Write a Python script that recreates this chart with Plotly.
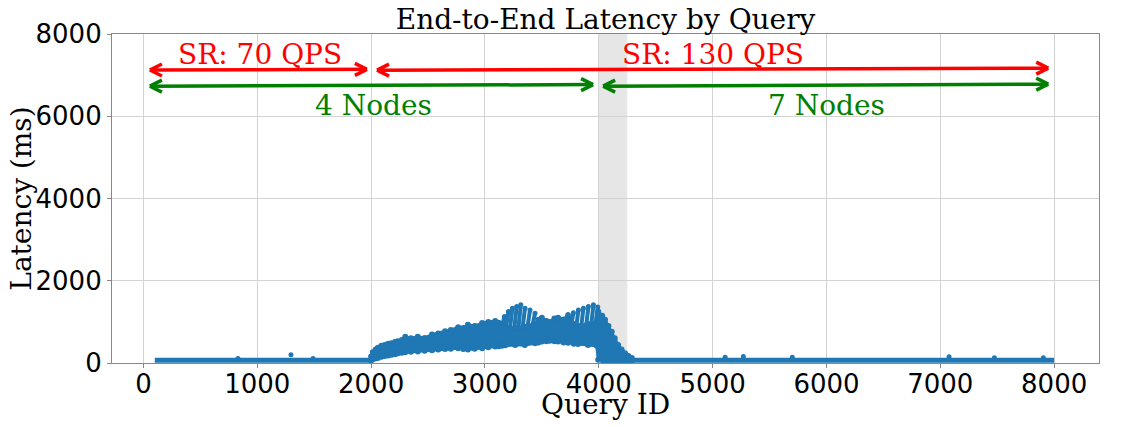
import plotly.graph_objects as go

# ---------------- data ----------------
flat_left_q = [100, 400, 700, 1000, 1300, 1600, 2000]
flat_left_ms = [65, 65, 65, 65, 65, 65, 65]
flat_right_q = [4290, 5000, 5500, 6000, 6500, 7000, 7500, 8000]
flat_right_ms = [65, 65, 65, 65, 65, 65, 65, 65]

spike_q = [830, 1296, 1490, 5110, 5270, 5700, 7077, 7475, 7905]
spike_ms = [110, 200, 110, 140, 160, 140, 150, 130, 130]

band_q = [2000, 2015, 2040, 2060, 2090, 2120, 2150, 2180, 2210, 2235, 2270, 2300,
          2350, 2410, 2470, 2535, 2590, 2650, 2700, 2765, 2810, 2850, 2910, 2975,
          3030, 3090, 3120, 3150, 3180, 3265, 3350, 3440, 3470, 3500, 3540, 3570,
          3610, 3643, 3690, 3730, 3780, 3818, 3905, 3982, 3995, 4030, 4055, 4085,
          4114, 4140, 4170, 4200, 4230, 4260, 4290]
band_low = [60, 90, 110, 120, 150, 170, 185, 200, 215, 240, 250, 260,
            275, 280, 300, 310, 330, 340, 345, 360, 340, 330, 345, 360,
            380, 400, 410, 420, 430, 440, 440, 480, 500, 520, 530, 540,
            530, 520, 500, 490, 470, 460, 440, 420, 80, 70, 60, 60,
            60, 60, 60, 60, 60, 60, 60]
band_high = [160, 260, 330, 370, 420, 440, 470, 480, 510, 530, 560, 640,
             600, 640, 610, 690, 720, 770, 800, 870, 850, 930, 900, 970,
             1000, 1020, 980, 950, 880, 850, 880, 950, 1050, 1100, 1020, 1000,
             1080, 1100, 1060, 1150, 950, 900, 950, 1000, 1250, 1150, 1050, 900,
             760, 600, 440, 330, 240, 170, 120]

stripe_q0 = [3150, 3185, 3220, 3258, 3294, 3331, 3375, 3419,
             3712, 3759, 3803, 3847, 3891, 3935, 3973]
stripe_ms0 = [880, 860, 850, 850, 860, 870, 900, 930,
              1050, 930, 900, 920, 940, 960, 990]
stripe_q1 = [3171, 3206, 3241, 3279, 3315, 3352, 3396, 3440,
             3730, 3777, 3821, 3865, 3909, 3953, 3991]
stripe_ms1 = [1130, 1250, 1330, 1375, 1415, 1330, 1290, 1210,
              1180, 1220, 1290, 1330, 1375, 1415, 1360]

# arrows
arrow_q0 = [57, 2052, 57, 4038]
arrow_ms0 = [7125, 7120, 6732, 6732]
arrow_q1 = [1963, 7948, 3950, 7948]
arrow_ms1 = [7140, 7170, 6770, 6780]
arrow_color = ["red", "red", "green", "green"]

label_text = ["SR: 70 QPS", "SR: 130 QPS", "4 Nodes", "7 Nodes"]
label_q = [1020, 5004, 2017, 6000]
label_ms = [7500, 7500, 6250, 6250]
label_color = ["red", "red", "green", "green"]

span_q = [4000, 4250]

x_ticks = [0, 1000, 2000, 3000, 4000, 5000, 6000, 7000, 8000]
y_ticks = [0, 2000, 4000, 6000, 8000]

BLUE = "#1f77b4"
SERIF = "DejaVu Serif"
SANS = "DejaVu Sans"

fig = go.Figure()

# dense band (fill between envelopes)
fig.add_trace(go.Scatter(
    x=band_q + band_q[::-1], y=band_high + band_low[::-1],
    mode="lines", fill="toself", fillcolor=BLUE,
    line=dict(color=BLUE, width=3), hoverinfo="skip", showlegend=False))
fig.add_trace(go.Scatter(x=band_q, y=band_high, mode="markers",
                         marker=dict(color=BLUE, size=6), showlegend=False,
                         hoverinfo="skip"))
fig.add_trace(go.Scatter(x=band_q, y=band_low, mode="markers",
                         marker=dict(color=BLUE, size=6), showlegend=False,
                         hoverinfo="skip"))

# stripes
for q0, m0, q1, m1 in zip(stripe_q0, stripe_ms0, stripe_q1, stripe_ms1):
    fig.add_trace(go.Scatter(x=[q0, q1], y=[m0, m1], mode="lines+markers",
                             line=dict(color=BLUE, width=4),
                             marker=dict(color=BLUE, size=5),
                             showlegend=False, hoverinfo="skip"))

# flat baseline
fig.add_trace(go.Scatter(x=flat_left_q, y=flat_left_ms, mode="lines",
                         line=dict(color=BLUE, width=5), showlegend=False))
fig.add_trace(go.Scatter(x=flat_right_q, y=flat_right_ms, mode="lines",
                         line=dict(color=BLUE, width=5), showlegend=False))
fig.add_trace(go.Scatter(x=spike_q, y=spike_ms, mode="markers",
                         marker=dict(color=BLUE, size=5), showlegend=False))

shapes = [dict(type="rect", xref="x", yref="paper", x0=span_q[0], x1=span_q[1],
               y0=0, y1=1, fillcolor="rgba(128,128,128,0.2)", line=dict(width=0),
               layer="below")]

for q0, m0, q1, m1, c in zip(arrow_q0, arrow_ms0, arrow_q1, arrow_ms1, arrow_color):
    shapes.append(dict(type="line", xref="x", yref="y", x0=q0, y0=m0, x1=q1, y1=m1,
                       line=dict(color=c, width=3.5)))
    for (tq, tm, d) in [(q0, m0, 1), (q1, m1, -1)]:
        for s in (1, -1):
            shapes.append(dict(type="line", xref="x", yref="y",
                               xsizemode="pixel", ysizemode="pixel",
                               xanchor=tq, yanchor=tm,
                               x0=0, y0=0, x1=d * 12, y1=s * 6,
                               line=dict(color=c, width=3.5)))

annotations = []
for t, q, m, c in zip(label_text, label_q, label_ms, label_color):
    annotations.append(dict(x=q, y=m, xref="x", yref="y", text=t, showarrow=False,
                            font=dict(family=SERIF, size=28, color=c),
                            xanchor="center", yanchor="middle"))

# axis titles as annotations (exact placement)
annotations.append(dict(x=0.5, y=-0.125, xref="paper", yref="paper", text="Query ID",
                        showarrow=False, xanchor="center", yanchor="middle",
                        font=dict(family=SERIF, size=28, color="black")))
annotations.append(dict(x=-0.092, y=0.5, xref="paper", yref="paper", text="Latency (ms)",
                        showarrow=False, xanchor="center", yanchor="middle", textangle=-90,
                        font=dict(family=SERIF, size=28, color="black")))

fig.update_layout(
    width=1121, height=427,
    margin=dict(l=112, r=22, t=34, b=64, autoexpand=False),
    paper_bgcolor="white", plot_bgcolor="white",
    title=dict(text="End-to-End Latency by Query", x=0.5402, xanchor="center",
               y=0.955, yanchor="middle", yref="container",
               font=dict(family=SERIF, size=28, color="black")),
    shapes=shapes, annotations=annotations,
    showlegend=False,
)
fig.update_xaxes(range=[-276, 8394], tickvals=x_ticks, automargin=False,
                 ticktext=[str(v) for v in x_ticks],
                 tickfont=dict(family=SANS, size=26, color="black"),
                 ticklabelstandoff=-6,
                 showgrid=True, gridcolor="#d3d3d3", gridwidth=1,
                 showline=True, linecolor="#888888", linewidth=1.2, mirror=True,
                 ticks="outside", ticklen=4, tickcolor="#888888", zeroline=False)
fig.update_yaxes(range=[0, 8000], tickvals=y_ticks, automargin=False,
                 ticktext=[str(v) for v in y_ticks],
                 tickfont=dict(family=SANS, size=26, color="black"),
                 showgrid=True, gridcolor="#d3d3d3", gridwidth=1,
                 showline=True, linecolor="#888888", linewidth=1.2, mirror=True,
                 ticks="outside", ticklen=4, tickcolor="#888888", zeroline=False)

fig.write_html("out.html", config={"displayModeBar": False},
               post_script="document.body.style.margin='0';document.body.style.overflow='hidden';")
